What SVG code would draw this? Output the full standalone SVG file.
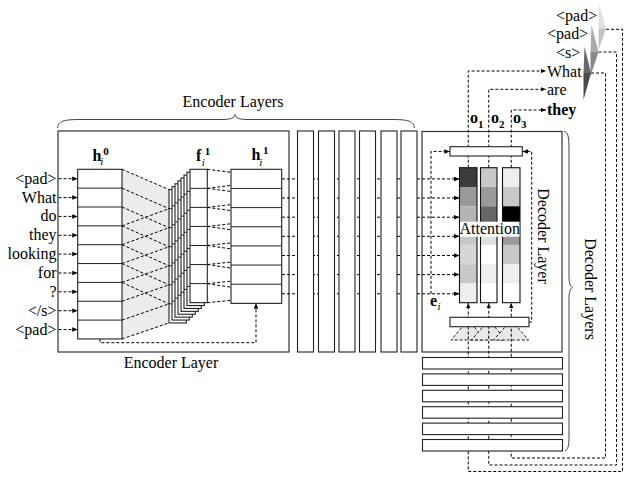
<svg xmlns="http://www.w3.org/2000/svg" width="624" height="477" viewBox="0 0 624 477">
<defs>
<marker id="ah" markerWidth="6" markerHeight="5" refX="5.5" refY="2.25" orient="auto" markerUnits="userSpaceOnUse"><path d="M0,0 L5.5,2.25 L0,4.5 z" fill="#000"/></marker>
<g id="flayer"><rect class="box" x="0" y="0" width="17.3" height="133.35"/><path class="cell" d="M0,19.05h17.3M0,38.1h17.3M0,57.15h17.3M0,76.2h17.3M0,95.25h17.3M0,114.3h17.3"/></g>
</defs>
<style>
text{font-family:"Liberation Serif","Times New Roman",serif;font-size:16px;fill:#000}
.box{fill:#fff;stroke:#222;stroke-width:1.1}
.big{fill:#fff;stroke:#333;stroke-width:1.2}
.cell{fill:none;stroke:#222;stroke-width:1}
.dash{fill:none;stroke:#000;stroke-width:1;stroke-dasharray:3 2}
.arr{marker-end:url(#ah)}
.brace{fill:none;stroke:#444;stroke-width:1}
.b{font-weight:bold}
.sm{font-size:11px}
.it{font-style:italic}
.tok{text-anchor:end}
.tri{fill:#e8e8e8;stroke:#000;stroke-width:0.9;stroke-dasharray:3 2}
</style>
<rect width="624" height="477" fill="#fff"/>

<g id="encoder-layers-label">
<text x="233" y="107" text-anchor="middle">Encoder Layers</text>
<path class="brace" d="M57.5,128 C58,121 64,119.5 80,119.5 L222,119.5 C231,119.5 234.5,118 235,114.5 C235.5,118 239,119.5 248,119.5 L392,119.5 C408,119.5 414,121 414.5,128"/>
</g>

<g id="encoder-layer">
<rect class="big" x="58" y="131" width="231" height="221"/>
<text x="171" y="368" text-anchor="middle">Encoder Layer</text>
</g>

<g id="decoder-layer">
<rect class="big" x="422" y="131.5" width="140" height="220.5"/>
<text transform="translate(537.5,236) rotate(90)" text-anchor="middle">Decoder Layer</text>
</g>

<g id="decoder-layers-label">
<path class="brace" d="M564,131.5 C568,132 569,136 569,150 L569,276 C569,283 570,286 572.5,287.5 C570,289 569,292 569,299 L569,436 C569,446 568,450 565,451"/>
<text transform="translate(585,289) rotate(90)" text-anchor="middle">Decoder Layers</text>
</g>

<g id="conv-shade">
<polygon points="122,169.3 169,189.6 169,322.95 122,338.95" fill="#ececec"/>
</g>

<g id="decoder-conv">
<polygon class="tri" points="468.25,320 451,340 485.5,340"/>
<polygon class="tri" points="488.75,320 471.5,340 506,340"/>
<polygon class="tri" points="511.25,320 493.5,340 528.5,340"/>
</g>

<g id="connectors">
<g class="dash arr">
<path d="M58.5,178.7H77.7"/><path d="M58.5,197.6H77.7"/><path d="M58.5,216.4H77.7"/><path d="M58.5,235.3H77.7"/><path d="M58.5,254.1H77.7"/><path d="M58.5,273H77.7"/><path d="M58.5,291.8H77.7"/><path d="M58.5,310.7H77.7"/><path d="M58.5,329.5H77.7"/>
<path d="M100,339V342.7H256V303.3"/>
<path d="M282,178.9H459.5"/><path d="M282,198H459.5"/><path d="M282,217.2H459.5"/><path d="M282,236.3H459.5"/><path d="M282,255.5H459.5"/><path d="M282,274.6H459.5"/><path d="M282,293.8H459.5"/>
<path d="M431,293.8V151.4H449.8"/>
<path d="M529,322H531.7V151.4H522.5"/>
<path d="M468.25,167.7V71H546"/>
<path d="M488.75,167.7V89.3H546"/>
<path d="M511.25,167.7V110H546"/>
<path d="M606,29.3H622.5V471.5H468.25V302.9"/>
<path d="M598.5,52H616.5V465H488.75V302.9"/>
<path d="M591,73H605.5V458H511.25V302.9"/>
</g>
<g class="dash">
<path d="M122,169.3L169,189.6M122,225.85L169,208.65"/>
<path d="M122,188.15L169,208.65M122,244.7L169,227.7"/>
<path d="M122,207L169,227.7M122,263.55L169,246.75"/>
<path d="M122,225.85L169,246.75M122,282.4L169,265.8"/>
<path d="M122,244.7L169,265.8M122,301.25L169,284.85"/>
<path d="M122,263.55L169,284.85M122,320.1L169,303.9"/>
<path d="M122,282.4L169,303.9M122,338.95L169,322.95"/>
<path d="M207.3,169.3L231,172.3M207.3,188.35L231,185.45"/>
<path d="M207.3,188.35L231,191.45M207.3,207.4L231,204.6"/>
<path d="M207.3,207.4L231,210.6M207.3,226.45L231,223.75"/>
<path d="M207.3,226.45L231,229.75M207.3,245.5L231,242.9"/>
<path d="M207.3,245.5L231,248.9M207.3,264.55L231,262.05"/>
<path d="M207.3,264.55L231,268.05M207.3,283.6L231,281.2"/>
<path d="M207.3,283.6L231,287.2M207.3,302.65L231,300.35"/>
</g>
</g>

<g id="tokens">
<text class="tok" x="56.5" y="183.7">&lt;pad&gt;</text>
<text class="tok" x="56.5" y="202.6">What</text>
<text class="tok" x="56.5" y="221.4">do</text>
<text class="tok" x="56.5" y="240.3">they</text>
<text class="tok" x="56.5" y="259.1">looking</text>
<text class="tok" x="56.5" y="278">for</text>
<text class="tok" x="56.5" y="296.8">?</text>
<text class="tok" x="56.5" y="315.7">&lt;/s&gt;</text>
<text class="tok" x="56.5" y="334.5">&lt;pad&gt;</text>
</g>

<g id="h0">
<rect class="box" x="77.7" y="169.3" width="44.3" height="169.65"/>
<path class="cell" d="M77.7,188.15H122M77.7,207H122M77.7,225.85H122M77.7,244.7H122M77.7,263.55H122M77.7,282.4H122M77.7,301.25H122M77.7,320.1H122"/>
<text x="92.5" y="161" class="b">h</text><text x="100.3" y="165" class="sm it">i</text><text x="103.3" y="154.5" class="sm b">0</text>
</g>

<g id="f1">
<use href="#flayer" x="169" y="189.6"/>
<use href="#flayer" x="172" y="186.7"/>
<use href="#flayer" x="175" y="183.8"/>
<use href="#flayer" x="178" y="180.9"/>
<use href="#flayer" x="181" y="178"/>
<use href="#flayer" x="184" y="175.1"/>
<use href="#flayer" x="187" y="172.2"/>
<use href="#flayer" x="190" y="169.3"/>
<text x="196" y="161" class="b">f</text><text x="201.8" y="165.5" class="sm it">i</text><text x="204.8" y="154.5" class="sm b">1</text>
</g>

<g id="h1">
<rect class="box" x="231" y="169.3" width="50.7" height="134.05"/>
<path class="cell" d="M231,188.45H281.7M231,207.6H281.7M231,226.75H281.7M231,245.9H281.7M231,265.05H281.7M231,284.2H281.7"/>
<text x="251.5" y="160" class="b">h</text><text x="259.3" y="165.5" class="sm it">i</text><text x="263" y="154" class="sm b">1</text>
</g>

<g id="encoder-stack">
<rect class="box" x="297.5" y="131" width="16" height="221"/>
<rect class="box" x="318.5" y="131" width="16" height="221"/>
<rect class="box" x="339" y="131" width="16" height="221"/>
<rect class="box" x="359.5" y="131" width="16" height="221"/>
<rect class="box" x="381" y="131" width="16" height="221"/>
<rect class="box" x="401" y="131" width="16" height="221"/>
</g>

<g id="decoder-top-rect"><rect class="box" x="450" y="146.7" width="72.3" height="9.3"/></g>
<g id="decoder-bottom-rect"><rect class="box" x="450" y="317.3" width="79" height="9.4"/></g>

<g id="attention">
<g stroke="none">
<rect x="459.5" y="167.7" width="17.5" height="19.3" fill="#3c3c3c"/>
<rect x="459.5" y="187" width="17.5" height="19.3" fill="#9a9a9a"/>
<rect x="459.5" y="206.3" width="17.5" height="19.3" fill="#b4b4b4"/>
<rect x="459.5" y="225.6" width="17.5" height="19.3" fill="#c8c8c8"/>
<rect x="459.5" y="244.9" width="17.5" height="19.3" fill="#d6d6d6"/>
<rect x="459.5" y="264.2" width="17.5" height="19.3" fill="#c8c8c8"/>
<rect x="459.5" y="283.5" width="17.5" height="19.2" fill="#eeeeee"/>
<rect x="480.5" y="167.7" width="16.5" height="19.3" fill="#c8c8c8"/>
<rect x="480.5" y="187" width="16.5" height="19.3" fill="#9a9a9a"/>
<rect x="480.5" y="206.3" width="16.5" height="19.3" fill="#666666"/>
<rect x="480.5" y="225.6" width="16.5" height="19.3" fill="#e0e0e0"/>
<rect x="480.5" y="244.9" width="16.5" height="19.3" fill="#ffffff"/>
<rect x="480.5" y="264.2" width="16.5" height="19.3" fill="#eeeeee"/>
<rect x="480.5" y="283.5" width="16.5" height="19.2" fill="#ffffff"/>
<rect x="502.5" y="167.7" width="17.5" height="19.3" fill="#eeeeee"/>
<rect x="502.5" y="187" width="17.5" height="19.3" fill="#c8c8c8"/>
<rect x="502.5" y="206.3" width="17.5" height="19.3" fill="#000000"/>
<rect x="502.5" y="225.6" width="17.5" height="19.3" fill="#9a9a9a"/>
<rect x="502.5" y="244.9" width="17.5" height="19.3" fill="#c8c8c8"/>
<rect x="502.5" y="264.2" width="17.5" height="19.3" fill="#eeeeee"/>
<rect x="502.5" y="283.5" width="17.5" height="19.2" fill="#ffffff"/>
</g>
<g fill="none" stroke="#111" stroke-width="1.1">
<rect x="459.5" y="167.7" width="17.5" height="135"/>
<rect x="480.5" y="167.7" width="16.5" height="135"/>
<rect x="502.5" y="167.7" width="17.5" height="135"/>
</g>
<rect x="460" y="221.7" width="59.5" height="15" fill="#fff"/>
<text x="489.7" y="234" text-anchor="middle" font-size="15.5">Attention</text>
</g>

<g id="ei-label"><text x="430" y="306" class="b">e</text><text x="437.5" y="310" class="sm it">i</text></g>

<g id="decoder-stack">
<rect class="box" x="422.5" y="357.5" width="140" height="11.5"/>
<rect class="box" x="422.5" y="373.9" width="140" height="11.5"/>
<rect class="box" x="422.5" y="390.3" width="140" height="11.5"/>
<rect class="box" x="422.5" y="406.7" width="140" height="11.5"/>
<rect class="box" x="422.5" y="423.1" width="140" height="11.5"/>
<rect class="box" x="422.5" y="439.5" width="140" height="11.5"/>
</g>

<g id="outputs">
<text x="470" y="123" class="b">o</text><text x="478" y="127.5" class="sm b">1</text>
<text x="491" y="123" class="b">o</text><text x="499" y="127.5" class="sm b">2</text>
<text x="513" y="123" class="b">o</text><text x="521" y="127.5" class="sm b">3</text>
</g>

<g id="target-tokens">
<text x="556" y="20.5">&lt;pad&gt;</text>
<text x="547" y="39">&lt;pad&gt;</text>
<text x="556" y="57.5">&lt;s&gt;</text>
<text x="547" y="77">What</text>
<text x="547" y="95">are</text>
<text x="547" y="115" class="b">they</text>
</g>

<g id="wedge-1">
<polygon points="599,4 606,28.5 598.5,28.5" fill="#e0e0e0"/>
<polygon points="598.5,28.5 606,28.5 598.5,50" fill="#c4c4c4"/>
</g>
<g id="wedge-2">
<polygon points="591.5,25 598.5,52 590.5,52" fill="#aaaaaa"/>
<polygon points="590.5,52 598.5,52 590.5,76" fill="#888888"/>
</g>
<g id="wedge-3">
<polygon points="584.5,46.5 591,73 583.5,73" fill="#6a6a6a"/>
<polygon points="583.5,73 591,73 583.5,100" fill="#4a4a4a"/>
</g>
</svg>
